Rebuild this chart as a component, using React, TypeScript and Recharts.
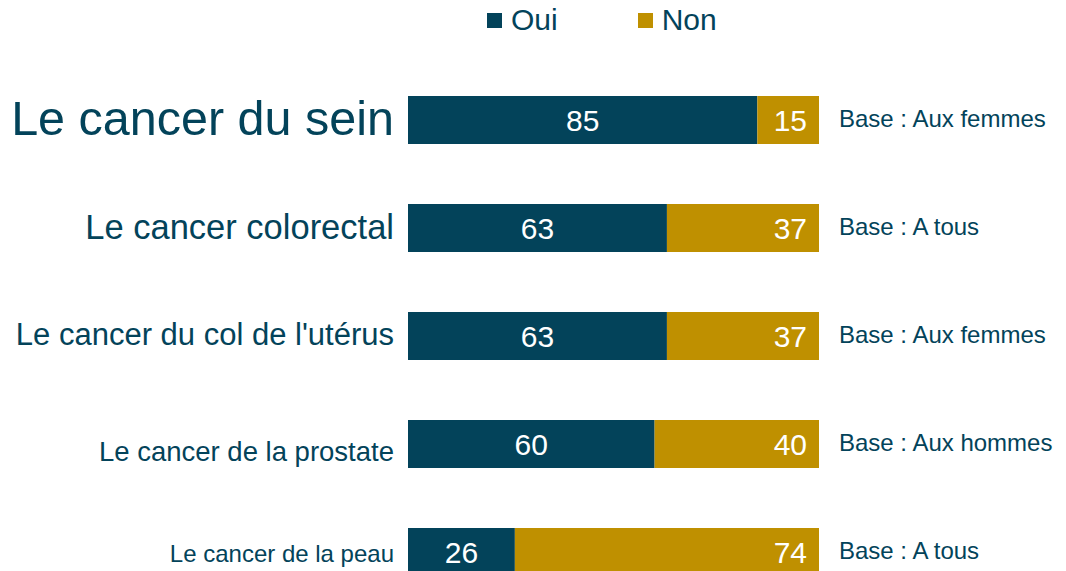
import { BarChart, Bar, XAxis, YAxis, Legend, LabelList } from 'recharts'

const categories = [
  'Le cancer du sein',
  'Le cancer colorectal',
  "Le cancer du col de l'utérus",
  'Le cancer de la prostate',
  'Le cancer de la peau',
]
const ouiValues = [85, 63, 63, 60, 26]
const nonValues = [15, 37, 37, 40, 74]
const bases = [
  'Base : Aux femmes',
  'Base : A tous',
  'Base : Aux femmes',
  'Base : Aux hommes',
  'Base : A tous',
]

// label sizes shrink row by row like in the original slide
const catFontSizes = [48.5, 34.5, 31, 27.5, 24]
const catDy = [15, 11, 9, 17, 10]

const TEAL = '#03435A'
const GOLD = '#BF9000'
const FONT = '"Liberation Sans", Arial, sans-serif'

const data = categories.map((name, i) => ({
  name,
  Oui: ouiValues[i],
  Non: nonValues[i],
  base: bases[i],
}))

function CategoryTick(props: any) {
  const { x, y, payload, index } = props
  return (
    <text
      x={x}
      y={y + catDy[index]}
      textAnchor="end"
      fill={TEAL}
      fontSize={catFontSizes[index]}
      fontFamily={FONT}
    >
      {payload.value}
    </text>
  )
}

function BaseLabel(props: any) {
  const { x, y, width, height, value } = props
  return (
    <text
      x={x + width + 20}
      y={y + height / 2 + 7}
      fill={TEAL}
      fontSize={24}
      fontFamily={FONT}
    >
      {value}
    </text>
  )
}

function LegendContent() {
  const items = [
    { label: 'Oui', color: TEAL },
    { label: 'Non', color: GOLD },
  ]
  return (
    <div style={{ display: 'flex', paddingLeft: 487, height: 40, alignItems: 'center' }}>
      {items.map((it) => (
        <div key={it.label} style={{ display: 'flex', alignItems: 'center', marginRight: 80 }}>
          <span style={{ width: 15, height: 15, background: it.color, marginRight: 9, display: 'inline-block' }} />
          <span style={{ fontSize: 30, color: TEAL, fontFamily: FONT, lineHeight: '40px' }}>{it.label}</span>
        </div>
      ))}
    </div>
  )
}

export default function App() {
  return (
    <div
      style={{
        position: 'fixed',
        left: 0,
        top: 0,
        width: 1066,
        height: 571,
        overflow: 'hidden',
        background: '#fff',
      }}
    >
      <BarChart
        layout="vertical"
        width={1066}
        height={620}
        data={data}
        barSize={48}
        margin={{ top: 26, right: 247, left: 0, bottom: 14 }}
      >
        <XAxis type="number" domain={[0, 100]} hide />
        <YAxis
          type="category"
          dataKey="name"
          width={408}
          axisLine={false}
          tickLine={false}
          tickSize={0}
          tickMargin={14}
          tick={<CategoryTick />}
          interval={0}
        />
        <Legend
          verticalAlign="top"
          content={<LegendContent />}
          wrapperStyle={{ top: 0, left: 0, width: 1066, height: 40 }}
        />
        <Bar dataKey="Oui" stackId="a" fill={TEAL} isAnimationActive={false}>
          <LabelList dataKey="Oui" position="center" fill="#fff" fontSize={30} fontFamily={FONT} />
        </Bar>
        <Bar dataKey="Non" stackId="a" fill={GOLD} isAnimationActive={false}>
          <LabelList
            dataKey="Non"
            position="insideRight"
            offset={12}
            fill="#fff"
            fontSize={30}
            fontFamily={FONT}
          />
          <LabelList dataKey="base" content={<BaseLabel />} />
        </Bar>
      </BarChart>
    </div>
  )
}
